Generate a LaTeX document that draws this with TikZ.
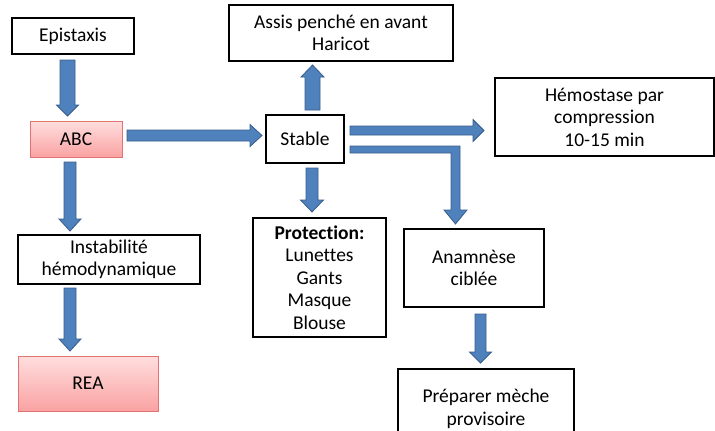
\documentclass[tikz,border=0pt]{standalone}
\usepackage{fontspec}
\setmainfont[Ligatures={NoCommon}]{Carlito}
\definecolor{arrfill}{HTML}{4F81BD}
\definecolor{arrdraw}{HTML}{385D8A}
\definecolor{pinktop}{RGB}{255,222,222}
\definecolor{pinkbot}{RGB}{250,162,162}
\definecolor{pinkline}{RGB}{225,115,115}
\tikzset{
  box/.style={draw=black, line width=1.4pt, fill=white, align=center, inner sep=2pt,
    font=\fontsize{19.5}{22.5}\selectfont},
  pinkbox/.style={draw=pinkline, line width=0.9pt, top color=pinktop, bottom color=pinkbot,
    align=center, font=\fontsize{19.5}{22.5}\selectfont},
  blockarrow/.style={fill=arrfill, draw=arrdraw, line width=0.8pt, line join=miter},
}
\newcommand\VArrow[6]{% cx, half shaft, y start, y head, y tip, half head
  \filldraw[blockarrow] ({#1-#2},#3) -- ({#1+#2},#3) -- ({#1+#2},#4) -- ({#1+#6},#4)
    -- (#1,#5) -- ({#1-#6},#4) -- ({#1-#2},#4) -- cycle;}
\newcommand\HArrow[6]{% cy, half shaft, x start, x head, x tip, half head
  \filldraw[blockarrow] (#3,{#1-#2}) -- (#3,{#1+#2}) -- (#4,{#1+#2}) -- (#4,{#1+#6})
    -- (#5,#1) -- (#4,{#1-#6}) -- (#4,{#1-#2}) -- cycle;}
\begin{document}
\begin{tikzpicture}[x=1pt,y=-1pt]
\useasboundingbox (0,0) rectangle (715,431);
% nodes
\node[box, minimum width=122pt, minimum height=36pt] (epi) at (73,36) {Epistaxis};
\node[pinkbox, minimum width=92pt, minimum height=36pt] (abc) at (76,139) {ABC};
\node[box, minimum width=78pt, minimum height=48pt] (stable) at (305,139) {Stable};
\node[box, minimum width=224pt, minimum height=56pt] (assis) at (341,33) {Assis penché en avant\\Haricot};
\node[box, minimum width=219pt, minimum height=78pt] (hemo) at (604.5,117) {Hémostase par\\compression\\10-15 min};
\node[box, minimum width=182pt, minimum height=49pt] (instab) at (109,259.5) {Instabilité\\hémodynamique};
\node[pinkbox, minimum width=140pt, minimum height=55pt] (rea) at (88,383.5) {REA};
\node[box, minimum width=133pt, minimum height=119pt] (prot) at (319.5,277.5) {\textbf{Protection:}\\Lunettes\\Gants\\Masque\\Blouse};
\node[box, minimum width=140pt, minimum height=78pt] (anam) at (474,268) {Anamnèse\\ciblée};
\node[box, minimum width=176pt, minimum height=80pt] (prep) at (486,409) {Préparer mèche\\provisoire};
% block arrows
\VArrow{67.5}{7.5}{60}{105}{116}{11}      % epi -> abc
\HArrow{135.5}{5.5}{127}{250}{262}{11}    % abc -> stable
\VArrow{70}{6}{162}{219}{231}{11}         % abc -> instab
\VArrow{70}{6}{288}{339}{351}{11}         % instab -> rea
\VArrow{312.5}{7.5}{110}{77}{65}{11.5}    % stable -> assis
\VArrow{312}{6}{168}{200}{212}{11.5}      % stable -> prot
\HArrow{130.5}{4.5}{350}{473}{484}{11}    % stable -> hemo
\filldraw[blockarrow] (350,146) -- (460,146) -- (460,210) -- (467,210) -- (455.5,224)
  -- (444,210) -- (451,210) -- (451,153) -- (350,153) -- cycle; % stable -> anam
\VArrow{480.5}{5.5}{314}{352}{363}{11}    % anam -> prep
\end{tikzpicture}
\end{document}
